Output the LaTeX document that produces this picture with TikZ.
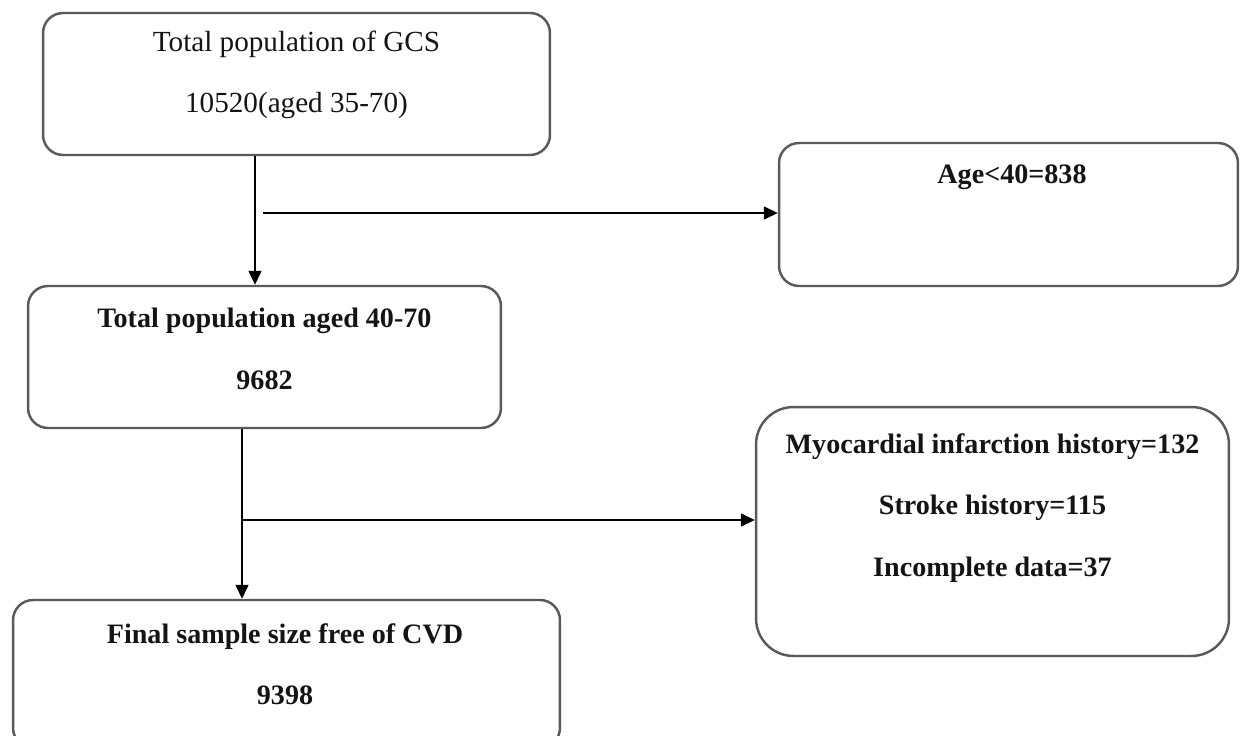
\documentclass[tikz,border=0pt]{standalone}
\usepackage{fontspec}
\setmainfont{Liberation Serif}
\usetikzlibrary{arrows.meta,positioning}
\definecolor{frame}{RGB}{90,90,90}
\definecolor{ink}{RGB}{20,20,20}

\begin{document}
\begin{tikzpicture}[x=0.02cm, y=-0.02cm,
    box/.style={draw=frame, line width=1.4pt, rounded corners=0.4cm, inner sep=0pt},
    txt/.style={ink, align=center, font=\fontsize{16.6}{35}\selectfont},
    boldtxt/.style={txt, font=\fontsize{16}{35}\selectfont\bfseries},
    arr/.style={-{Triangle[length=0.28cm,width=0.26cm]}, line width=0.8pt, black}]
  \useasboundingbox (0,0) rectangle (1240,736);
  % boxes
  \node[box, minimum width=10.14cm, minimum height=2.84cm] (gcs) at (296.5,84) {};
  \node[box, minimum width=9.18cm, minimum height=2.86cm] (age) at (1008.5,214.5) {};
  \node[box, minimum width=9.46cm, minimum height=2.84cm] (aged) at (264.5,357) {};
  \node[box, minimum width=9.46cm, minimum height=4.98cm, rounded corners=0.75cm] (excl) at (992.5,531.5) {};
  \node[box, minimum width=10.94cm, minimum height=2.96cm] (final) at (286.5,674) {};
  % texts
  \node[txt] (gcstxt) at (296.5,75) {Total population of GCS\\10520(aged 35-70)};
  \node[boldtxt] (agetxt) at (1012,177) {Age<40=838};
  \node[boldtxt] (agedtxt) at (264.5,349) {Total population aged 40-70\\9682};
  \node[boldtxt] (excltxt) at (992.5,508) {Myocardial infarction history=132\\Stroke history=115\\Incomplete data=37};
  \node[boldtxt] (finaltxt) at (285,664) {Final sample size free of CVD\\9398};
  % arrows
  \coordinate (split1) at (255,213);
  \draw[arr] (gcs.south -| split1) -- (aged.north -| split1);
  \draw[arr] ([xshift=0.16cm]split1) -- (split1 -| age.west);
  \coordinate (split2) at (242,520);
  \draw[arr] (aged.south -| split2) -- (final.north -| split2);
  \draw[arr] (split2) -- (split2 -| excl.west);
\end{tikzpicture}
\end{document}
